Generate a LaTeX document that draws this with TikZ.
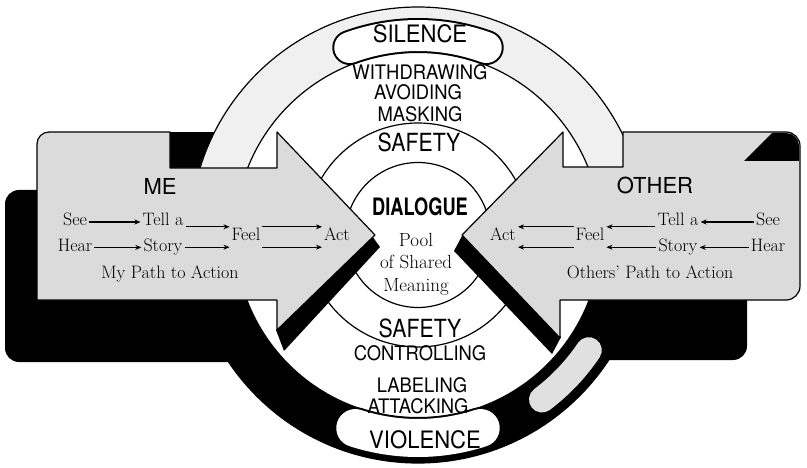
\documentclass[tikz,border=0pt]{standalone}
\usepackage{fontspec}
\newfontfamily\ringfont[FakeStretch=0.92]{TeX Gyre Heros}
\newfontfamily\safefont[FakeStretch=0.85]{TeX Gyre Heros}
\newfontfamily\dialfont[FakeStretch=0.76]{TeX Gyre Heros}
\newfontfamily\sidefont{TeX Gyre Heros}
\usetikzlibrary{arrows.meta, positioning}

\begin{document}
\begin{tikzpicture}[x=1pt, y=-1pt,
    ringword/.style={inner sep=0pt, font=\ringfont\fontsize{20}{20}\selectfont},
    poleword/.style={inner sep=0pt, font=\ringfont\fontsize{24}{24}\selectfont},
    safeword/.style={inner sep=0pt, font=\safefont\fontsize{25}{25}\selectfont},
    sideword/.style={inner sep=0pt, font=\sidefont\fontsize{22}{22}\selectfont},
    pathword/.style={inner sep=2pt, text height=12pt, text depth=4pt, font=\fontsize{18}{18}\selectfont},
    stipple/.style={fill=black!14, draw=black, line width=1.2pt, line join=round},
    arr/.style={-{Stealth[length=6pt, width=5pt]}, line width=1.1pt},
    pole/.style={line width=#1, line cap=round}
]
\useasboundingbox (0,0) rectangle (807,468);
\coordinate (c) at (418,235);

% shadows behind the two boxes
\fill[rounded corners=14pt] (5,190) rectangle (282,362);
\fill (165,132) rectangle (250,172);
\fill[rounded corners=14pt] (540,280) rectangle (747,360);

% outer ring
\draw[line width=45pt, black!6] (c) ++(180:205.5) arc[start angle=180, end angle=360, radius=205.5];
\draw[line width=45pt, black] (c) ++(0:205.5) arc[start angle=0, end angle=180, radius=205.5];
\draw[line width=1.2pt] (c) circle[radius=228];
\draw[pole=26pt, black!12] (c) ++(34:206) arc[start angle=34, end angle=53, radius=206];

% inner circles
\draw[line width=1.2pt, fill=white] (c) circle[radius=183];
\draw[line width=1.2pt] (c) circle[radius=112];
\draw[line width=1.2pt] (c) circle[radius=72.5];

% end ovals
\draw[pole=35pt] (c) ++(250:199.5) arc[start angle=250, end angle=290, radius=199.5];
\draw[pole=31pt, white] (c) ++(250:199.5) arc[start angle=250, end angle=290, radius=199.5];
\draw[pole=42pt] (c) ++(72:203) arc[start angle=72, end angle=108, radius=203];
\draw[pole=38pt, white] (c) ++(72:203) arc[start angle=72, end angle=108, radius=203];

% arrow shadows
\fill (372,236) -- (276,330) -- (284,351) -- (380,247) -- cycle;
\fill (463,234) -- (561,337) -- (552,354) -- (454,251) -- cycle;

% the two boxes
\draw[stipple] (37,300) -- (37,144) arc[start angle=180, end angle=270, radius=12] -- (170,132) -- (170,168) -- (277,168) -- (277,132) -- (375,235) -- (277,330) -- (277,300) -- cycle;
\draw[stipple] (560,300) -- (786,300) arc[start angle=90, end angle=0, radius=14] -- (800,146) arc[start angle=0, end angle=-90, radius=14] -- (623,132) -- (623,167) -- (563,167) -- (563,132) -- (462,235) -- (560,338) -- cycle;
\fill (744,161) -- (772,133) -- (786,133) arc[start angle=-90, end angle=0, radius=13] -- (799,161) -- cycle;

% ring texts
\node[poleword] (silence) at (420,34) {SILENCE};
\node[ringword] (withdrawing) at (420,72) {WITHDRAWING};
\node[ringword] (avoiding) at (418,92) {AVOIDING};
\node[ringword] (masking) at (420,114) {MASKING};
\node[safeword] (safetytop) at (419,142) {SAFETY};
\node[safeword] (safetybot) at (420,328) {SAFETY};
\node[ringword] (controlling) at (420,353) {CONTROLLING};
\node[ringword] (labeling) at (422,385) {LABELING};
\node[ringword] (attacking) at (418,406) {ATTACKING};
\node[poleword] (violence) at (425,440) {VIOLENCE};

% centre
\node[inner sep=0pt, font=\dialfont\bfseries\fontsize{24}{24}\selectfont] (dialogue) at (420,207) {DIALOGUE};
\node[inner sep=0pt, align=center, font=\fontsize{19}{22.5}\selectfont] (pool) at (416,264) {Pool\\of Shared\\Meaning};

% me
\node[sideword] (me) at (160,186) {ME};
\node[pathword] (see) at (75,222) {See};
\node[pathword, below=5pt of see] (hear) {Hear};
\node[pathword] (tella) at (163,222) {Tell a};
\node[pathword, below=5pt of tella] (story) {Story};
\node[pathword] (feel) at (246,237) {Feel};
\node[pathword] (act) at (337,237) {Act};
\node[pathword] (mypath) at (170,275) {My Path to Action};

\draw[arr] (see) -- (tella);
\draw[arr] (hear) -- (story);
\draw[arr] (tella.east |- feel.north west) -- (feel.north west);
\draw[arr] (story.east |- feel.south west) -- (feel.south west);
\draw[arr] (feel.north east) -- (act.north west);
\draw[arr] (feel.south east) -- (act.south west);

% other
\node[sideword] (other) at (655,185) {OTHER};
\node[pathword] (oact) at (503,237) {Act};
\node[pathword] (ofeel) at (590,237) {Feel};
\node[pathword] (otella) at (678,222) {Tell a};
\node[pathword, below=5pt of otella] (ostory) {Story};
\node[pathword] (osee) at (768,222) {See};
\node[pathword, below=5pt of osee] (ohear) {Hear};
\node[pathword] (theirpath) at (650,275) {Others' Path to Action};

\draw[arr] (osee) -- (otella);
\draw[arr] (ohear) -- (ostory);
\draw[arr] (otella.west |- ofeel.north east) -- (ofeel.north east);
\draw[arr] (ostory.west |- ofeel.south east) -- (ofeel.south east);
\draw[arr] (ofeel.north west) -- (oact.north east);
\draw[arr] (ofeel.south west) -- (oact.south east);

\end{tikzpicture}
\end{document}
